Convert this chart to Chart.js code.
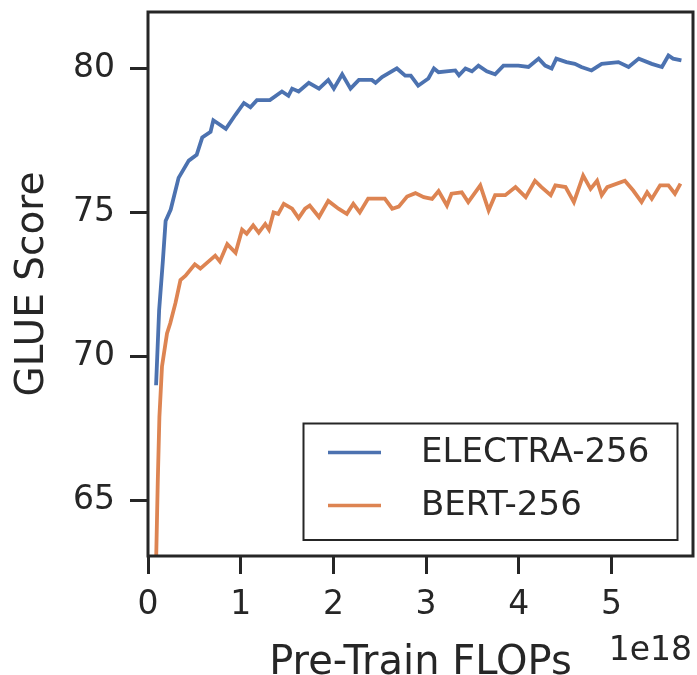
<!DOCTYPE html>
<html>
<head>
<meta charset="utf-8">
<script src="https://cdn.jsdelivr.net/npm/chart.js@4.4.0/dist/chart.umd.min.js"></script>
<style>
  html, body { margin: 0; padding: 0; background: #fff; }
  canvas { display: block; }
</style>
</head>
<body>
<canvas id="chart" width="697" height="675"></canvas>
<script>
// data (x in units of 1e18 FLOPs)

const electraFlops = [0.087, 0.12, 0.16, 0.19, 0.245, 0.33, 0.44, 0.525, 0.585, 0.675, 0.705, 0.84, 0.945,
  1.035, 1.105, 1.175, 1.315, 1.445, 1.515, 1.555, 1.625, 1.735, 1.845, 1.945, 2.005, 2.095, 2.185, 2.275,
  2.415, 2.455, 2.525, 2.685, 2.775, 2.835, 2.915, 3.025, 3.085, 3.135, 3.315, 3.355, 3.425, 3.495, 3.565,
  3.655, 3.745, 3.835, 3.995, 4.105, 4.215, 4.285, 4.355, 4.405, 4.515, 4.605, 4.675, 4.785, 4.895, 5.075,
  5.185, 5.295, 5.435, 5.545, 5.615, 5.665, 5.755];
const electraScore = [69.0, 71.6, 73.3, 74.7, 75.1, 76.2, 76.8, 77.0, 77.6, 77.8, 78.2, 77.9, 78.4,
  78.8, 78.65, 78.9, 78.9, 79.2, 79.05, 79.3, 79.2, 79.5, 79.3, 79.6, 79.3, 79.8, 79.3, 79.6,
  79.6, 79.5, 79.7, 80.0, 79.75, 79.75, 79.4, 79.65, 80.0, 79.87, 79.93, 79.76, 80.0, 79.9, 80.1,
  79.9, 79.8, 80.1, 80.1, 80.05, 80.34, 80.1, 80.0, 80.34, 80.22, 80.16, 80.05, 79.93, 80.16, 80.22,
  80.05, 80.34, 80.16, 80.05, 80.45, 80.34, 80.28];

const bertFlops = [0.085, 0.105, 0.123, 0.151, 0.205, 0.24, 0.296, 0.35, 0.405, 0.505, 0.565, 0.725, 0.775,
  0.855, 0.945, 1.015, 1.065, 1.135, 1.195, 1.265, 1.305, 1.355, 1.405, 1.465, 1.555, 1.625, 1.695, 1.745,
  1.845, 1.945, 2.055, 2.145, 2.215, 2.285, 2.375, 2.555, 2.635, 2.705, 2.795, 2.885, 2.975, 3.065, 3.135,
  3.225, 3.275, 3.385, 3.455, 3.585, 3.675, 3.745, 3.855, 3.965, 4.075, 4.175, 4.245, 4.345, 4.395, 4.505,
  4.595, 4.695, 4.775, 4.845, 4.895, 4.955, 5.145, 5.235, 5.325, 5.385, 5.435, 5.525, 5.615, 5.685, 5.745];
const bertScore = [62.5, 65.6, 67.9, 69.65, 70.8, 71.15, 71.85, 72.65, 72.8, 73.2, 73.05, 73.5, 73.3,
  73.9, 73.6, 74.4, 74.26, 74.55, 74.3, 74.6, 74.4, 75.0, 74.95, 75.3, 75.13, 74.8, 75.13, 75.24,
  74.84, 75.4, 75.13, 74.95, 75.3, 75.0, 75.48, 75.48, 75.13, 75.2, 75.55, 75.67, 75.53, 75.47, 75.74,
  75.24, 75.65, 75.7, 75.36, 75.94, 75.07, 75.6, 75.6, 75.88, 75.53, 76.1, 75.88, 75.6, 75.94, 75.88,
  75.36, 76.28, 75.82, 76.1, 75.6, 75.88, 76.1, 75.76, 75.36, 75.7, 75.47, 75.94, 75.94, 75.65, 76.0];

const seriesNames = ["ELECTRA-256", "BERT-256"];
const xTicks = [0, 1, 2, 3, 4, 5];
const yTicks = [65, 70, 75, 80];

const ink = '#262626';
const font = 'DejaVu Sans';

function toPoints(xs, ys) {
    return xs.map((x, i) => ({ x: x, y: ys[i] }));
}

// frame, offset text and legend box
const extras = {
    id: 'extras',
    afterDraw(chart) {
        const ctx = chart.ctx;
        const a = chart.chartArea;
        ctx.save();
        ctx.strokeStyle = ink;
        ctx.lineWidth = 3;
        ctx.strokeRect(a.left, a.top, a.right - a.left, a.bottom - a.top);

        ctx.fillStyle = ink;
        ctx.font = '33px "' + font + '"';
        ctx.textAlign = 'right';
        ctx.textBaseline = 'alphabetic';
        ctx.fillText('1e18', 692, 660);

        // legend
        const box = { x: 303.5, y: 423.5, w: 374, h: 116.5 };
        ctx.fillStyle = '#fff';
        ctx.fillRect(box.x, box.y, box.w, box.h);
        ctx.lineWidth = 2;
        ctx.strokeStyle = ink;
        ctx.strokeRect(box.x, box.y, box.w, box.h);
        ctx.font = '34px "' + font + '"';
        ctx.textAlign = 'left';
        ctx.textBaseline = 'middle';
        chart.data.datasets.forEach((ds, i) => {
            const y = 452.5 + i * 53;
            ctx.strokeStyle = ds.borderColor;
            ctx.lineWidth = 3.5;
            ctx.beginPath();
            ctx.moveTo(328, y);
            ctx.lineTo(381, y);
            ctx.stroke();
            ctx.fillStyle = ink;
            ctx.fillText(ds.label, 421, y + 1);
        });
        ctx.restore();
    }
};

let ctx = document.getElementById('chart').getContext('2d');
let chart = new Chart(ctx, {
    type: 'line',
    data: {
        datasets: [{
            label: seriesNames[0],
            data: toPoints(electraFlops, electraScore),
            borderColor: '#4C72B0',
            borderWidth: 3.8,
            pointRadius: 0,
            tension: 0,
            clip: 0
        }, {
            label: seriesNames[1],
            data: toPoints(bertFlops, bertScore),
            borderColor: '#DD8452',
            borderWidth: 3.8,
            pointRadius: 0,
            tension: 0,
            clip: 0
        }]
    },
    options: {
        responsive: false,
        animation: false,
        devicePixelRatio: 1,
        layout: { padding: { top: 12, right: 4, left: 0, bottom: 0 } },
        plugins: {
            legend: { display: false },
            tooltip: { enabled: false }
        },
        scales: {
            x: {
                type: 'linear',
                min: 0,
                max: 5.88,
                afterBuildTicks: (scale) => { scale.ticks = xTicks.map(v => ({ value: v })); },
                afterFit: (scale) => {
                    scale.height = 119;
                    scale.paddingLeft = 0;
                    scale.paddingRight = 0;
                },
                border: { display: false },
                grid: { drawOnChartArea: false, tickLength: 18, tickWidth: 3, tickColor: ink },
                ticks: { color: ink, font: { family: font, size: 33 }, padding: 12, maxRotation: 0 },
                title: {
                    display: true,
                    text: 'Pre-Train FLOPs',
                    color: ink,
                    font: { family: font, size: 40 },
                    padding: { top: 0, bottom: -13 }
                }
            },
            y: {
                type: 'linear',
                min: 63.07,
                max: 81.96,
                afterBuildTicks: (scale) => { scale.ticks = yTicks.map(v => ({ value: v })); },
                afterFit: (scale) => {
                    scale.width = 148;
                    scale.paddingTop = 0;
                    scale.paddingBottom = 0;
                },
                border: { display: false },
                grid: { drawOnChartArea: false, tickLength: 18, tickWidth: 3, tickColor: ink },
                ticks: { color: ink, font: { family: font, size: 33 }, padding: 15 },
                title: {
                    display: true,
                    text: 'GLUE Score',
                    color: ink,
                    font: { family: font, size: 39 },
                    padding: { top: 9, bottom: 0 }
                }
            }
        }
    },
    plugins: [extras]
});
</script>
</body>
</html>
